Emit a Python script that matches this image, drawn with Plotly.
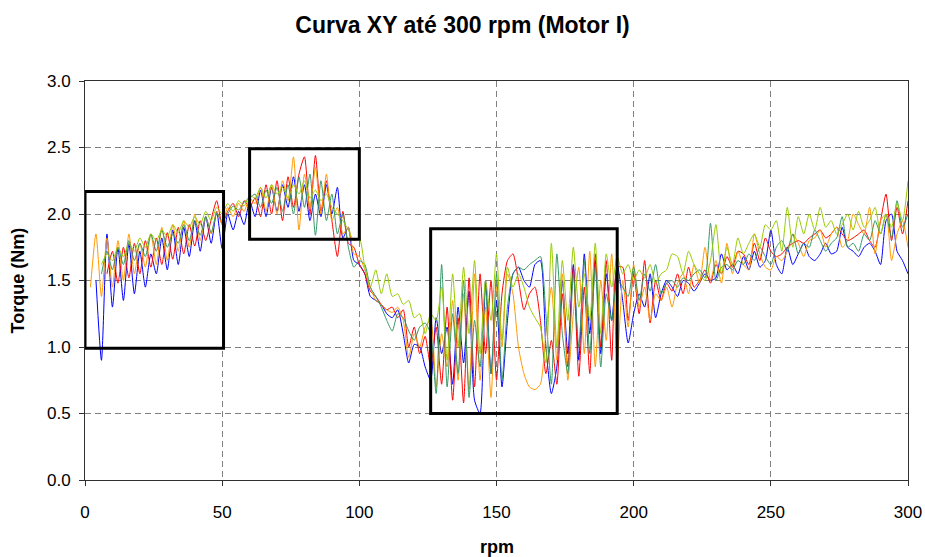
import plotly.graph_objects as go

# rpm sampling grid (2 rpm step)
rpm = list(range(2, 301, 2))

N = None
# Torque series (Nm), region by region
blue = ([N, 1.50, 0.90, 1.85, 1.30, 1.75, 1.35, 1.78, 1.40, 1.72, 1.45, 1.70, 1.55, 1.82, 1.58, 1.88, 1.62, 1.90, 1.68, 1.95, 1.72, 1.98, 1.78, 2.02, 1.74]
        + [2.00, 1.88, 2.02, 1.92, 2.10]
        + [1.98, 2.18, 1.98, 2.20, 2.02, 2.22, 2.05, 2.28, 2.02, 2.22, 1.95, 2.15, 1.98, 2.22, 2.00, 2.20, 1.82, 1.90, 1.65, 1.62]
        + [1.55, 1.38, 1.35, 1.32, 1.25, 1.22, 1.28, 1.10, 0.88, 1.02, 1.00, 0.85]
        + [0.75, 1.22, 0.95, 1.15, 0.72, 1.30, 0.88, 1.42, 0.60, 0.50, 1.50, 0.80, 1.35, 0.70, 1.20, 1.55, 1.60, 1.50, 1.45, 1.62,
           1.65, 1.00, 0.65, 0.85, 1.50, 0.95, 1.62, 0.90, 1.70, 1.10, 1.65, 0.95, 1.55, 1.20, 1.62]
        + [1.35, 1.03, 1.25, 1.40, 1.30, 1.55, 1.22, 1.40, 1.50, 1.45, 1.38, 1.50, 1.48, 1.42, 1.48, 1.55, 1.50, 1.52, 1.70, 1.58,
           1.62, 1.55, 1.68, 1.58, 1.72, 1.60, 1.65, 1.88, 1.62, 1.55, 1.75, 1.62, 1.70, 1.78, 1.68, 1.65, 1.70, 1.78, 1.70, 1.72,
           1.90, 1.75, 1.72, 1.68, 1.75, 1.78, 1.72, 1.62, 1.95, 2.00, 1.72, 1.65, 1.55])

red = ([N, N, N, 1.55, 1.72, 1.48, 1.75, 1.52, 1.78, 1.55, 1.80, 1.60, 1.82, 1.62, 1.86, 1.66, 1.90, 1.70, 1.92, 1.76, 1.95, 1.80, 1.96, 2.10, 1.92]
       + [2.02, 2.08, 1.98, 2.10, 2.05]
       + [2.12, 1.98, 2.22, 2.00, 2.25, 1.95, 2.28, 2.05, 2.30, 2.43, 2.00, 2.44, 2.02, 2.25, 1.95, 1.68, 2.02, 1.78, 1.75, 1.62]
       + [1.55, 1.42, 1.38, 1.32, 1.28, 1.30, 1.22, 1.28, 1.00, 1.15, 0.95, 1.08]
       + [0.85, 1.15, 0.72, 1.30, 0.60, 1.22, 0.58, 1.52, 0.70, 1.55, 0.95, 1.50, 0.75, 1.40, 1.65, 1.70, 1.50, 1.28, 1.40, 1.45,
          1.20, 0.80, 1.05, 0.72, 1.40, 0.85, 1.60, 0.78, 1.45, 0.80, 1.70, 1.00, 1.65, 0.90, 1.60]
       + [1.60, 1.20, 1.55, 1.25, 1.65, 1.18, 1.50, 1.35, 1.48, 1.42, 1.55, 1.40, 1.60, 1.45, 1.50, 1.58, 1.48, 1.62, 1.55, 1.68,
          1.60, 1.72, 1.70, 1.62, 1.78, 1.65, 1.82, 1.72, 1.68, 1.70, 1.75, 1.78, 1.80, 1.78, 1.82, 1.85, 1.88, 1.82, 1.85, 1.90,
          1.85, 1.80, 1.82, 1.85, 1.88, 1.80, 1.75, 1.95, 2.15, 1.80, 2.05, 1.85, 2.10])

orange = ([1.45, 1.85, 1.38, 1.82, 1.45, 1.80, 1.50, 1.85, 1.55, 1.78, 1.60, 1.85, 1.62, 1.90, 1.65, 1.92, 1.72, 1.95, 1.75, 2.00, 1.80, 1.98, 1.85, 2.02, 1.92]
          + [2.05, 1.98, 2.08, 2.02, 2.12]
          + [2.08, 2.20, 2.02, 2.22, 2.00, 2.25, 2.10, 2.43, 1.88, 2.30, 2.05, 2.35, 2.00, 2.30, 1.95, 2.05, 1.85, 1.90, 1.70, 1.68]
          + [1.58, 1.45, 1.35, 1.32, 1.28, 1.26, 1.30, 1.20, 0.92, 1.10, 1.00, 1.15]
          + [1.20, 0.70, 1.10, 0.85, 1.35, 0.75, 1.40, 0.68, 1.55, 0.75, 1.30, 0.62, 1.45, 1.00, 1.55, 1.40, 1.00, 0.80, 0.70, 0.68,
             0.72, 1.10, 1.45, 0.90, 1.55, 0.75, 1.25, 1.60, 0.95, 1.72, 0.85, 1.50, 1.05, 1.70, 0.90]
          + [1.50, 1.15, 1.62, 1.30, 1.45, 1.20, 1.40, 1.35, 1.45, 1.30, 1.48, 1.55, 1.40, 1.62, 1.48, 1.75, 1.50, 1.65, 1.48, 1.78,
             1.55, 1.72, 1.62, 1.58, 1.85, 1.70, 1.60, 1.58, 1.68, 1.65, 1.72, 1.85, 1.78, 1.68, 1.80, 1.82, 1.88, 1.75, 1.85, 1.90,
             1.75, 1.80, 2.00, 1.92, 1.85, 2.05, 1.70, 1.95, 2.00, 1.65, 1.85, 1.95, 1.75])

teal = ([N, N, 1.55, 1.72, 1.58, 1.75, 1.62, 1.80, 1.65, 1.78, 1.68, 1.85, 1.72, 1.88, 1.75, 1.85, 1.78, 1.92, 1.80, 1.95, 1.84, 1.98, 1.86, 2.00, 1.95]
        + [2.00, 2.06, 2.03, 2.09, 2.12]
        + [2.15, 2.05, 2.18, 2.08, 2.20, 2.02, 2.22, 2.00, 2.28, 2.05, 2.30, 1.84, 2.25, 1.95, 2.15, 1.85, 2.00, 1.75, 1.60, 1.65]
        + [1.62, 1.45, 1.38, 1.30, 1.20, 1.12, 1.25, 1.22, 1.12, 1.05, 1.15, 1.18]
        + [1.10, 0.65, 1.62, 0.70, 1.25, 0.80, 1.50, 0.62, 1.20, 0.85, 1.45, 0.80, 1.55, 0.75, 1.30, 1.55, 1.60, 1.58, 1.62, 1.65,
           1.68, 1.25, 0.72, 1.70, 1.10, 0.80, 1.55, 1.00, 1.65, 0.95, 1.60, 0.85, 1.40, 1.20, 1.50]
        + [1.45, 1.38, 1.60, 1.35, 1.55, 1.42, 1.62, 1.40, 1.48, 1.50, 1.45, 1.52, 1.50, 1.55, 1.58, 1.52, 1.93, 1.50, 1.60, 1.62,
           1.58, 1.65, 1.62, 1.70, 1.65, 1.75, 1.68, 1.62, 1.75, 1.80, 1.72, 1.85, 1.70, 1.78, 1.75, 1.88, 1.80, 1.72, 1.78, 1.82,
           1.98, 1.75, 1.78, 1.72, 1.85, 1.80, 1.95, 1.85, 2.00, 1.82, 2.10, 1.90, 2.00])

yellowgreen = ([N, N, 1.62, 1.70, 1.65, 1.75, 1.68, 1.78, 1.72, 1.82, 1.75, 1.85, 1.80, 1.88, 1.83, 1.92, 1.86, 1.95, 1.90, 1.98, 1.92, 2.02, 1.95, 2.05, 2.00]
               + [2.08, 2.02, 2.10, 2.06, 2.14]
               + [2.12, 2.20, 2.12, 2.22, 2.15, 2.20, 2.12, 2.22, 2.15, 2.25, 2.12, 2.18, 2.10, 2.15, 2.05, 2.00, 1.95, 1.88, 1.80, 1.82]
               + [1.60, 1.45, 1.58, 1.40, 1.55, 1.38, 1.40, 1.32, 1.35, 1.22, 1.25, 1.10]
               + [1.25, 1.20, 1.45, 0.90, 1.55, 1.00, 1.60, 1.10, 1.65, 0.95, 1.50, 1.20, 1.70, 1.05, 1.60, 1.45, 1.55, 1.45, 1.30, 1.22,
                  1.15, 0.88, 1.78, 1.00, 1.65, 1.20, 1.75, 1.30, 1.55, 1.20, 1.78, 1.10, 1.70, 1.45, 1.68]
               + [1.55, 1.62, 1.50, 1.58, 1.52, 1.62, 1.48, 1.55, 1.58, 1.70, 1.68, 1.55, 1.72, 1.62, 1.55, 1.50, 1.65, 1.92, 1.55, 1.75,
                  1.62, 1.82, 1.70, 1.78, 1.85, 1.75, 1.92, 1.88, 1.95, 1.72, 2.05, 1.75, 1.98, 1.85, 2.00, 1.88, 2.05, 1.90, 1.95, 1.85,
                  1.92, 2.00, 1.88, 2.02, 1.90, 1.95, 2.05, 1.85, 2.00, 1.90, 2.08, 1.95, 2.25])

series = [("blue", blue, "#0000FF"), ("red", red, "#FF0000"), ("orange", orange, "#FF9900"),
          ("teal", teal, "#339966"), ("yellowgreen", yellowgreen, "#99CC00")]

# highlighted regions (rpm range, torque range)
boxes = [((0, 50.5), (0.99, 2.17)), ((60, 100), (1.81, 2.49)), ((126, 194), (0.50, 1.89))]

FONT = "Liberation Sans, Arial, sans-serif"
W, H = 925, 557
ML, MR, MT, MB = 85, 17, 81, 77
PW, PH = W - ML - MR, H - MT - MB

fig = go.Figure()
for name, vals, col in series:
    fig.add_trace(go.Scatter(x=rpm[:len(vals)], y=vals, mode="lines", name=name,
                             line=dict(color=col, width=1, shape="spline", smoothing=0.6),
                             connectgaps=False))

for (x0, x1), (y0, y1) in boxes:
    fig.add_shape(type="rect", xref="x", yref="y", x0=x0, x1=x1, y0=y0, y1=y1,
                  line=dict(color="black", width=3), fillcolor="rgba(0,0,0,0)")

fig.update_layout(
    width=W, height=H,
    margin=dict(l=ML, r=MR, t=MT, b=MB, autoexpand=False),
    paper_bgcolor="white", plot_bgcolor="white",
    showlegend=False,
    font=dict(family=FONT, color="black", size=17),
    title=dict(text="<b>Curva XY até 300 rpm (Motor I)</b>", x=0.5, xanchor="center",
               y=1 - 25 / H, yanchor="middle", font=dict(family=FONT, size=23, color="black")),
    annotations=[
        dict(text="<b>Torque (Nm)</b>", xref="paper", yref="paper",
             x=(17 - ML) / PW, y=0.5, xanchor="center", yanchor="middle",
             textangle=-90, showarrow=False, font=dict(family=FONT, size=18, color="black")),
        dict(text="<b>rpm</b>", xref="paper", yref="paper",
             x=0.5, y=-(547 - (H - MB)) / PH, xanchor="center", yanchor="middle",
             showarrow=False, font=dict(family=FONT, size=18, color="black")),
    ],
)
fig.update_xaxes(range=[0, 300], tickvals=[0, 50, 100, 150, 200, 250, 300],
                 ticktext=["0", "50", "100", "150", "200", "250", "300"],
                 showgrid=True, gridcolor="#808080", griddash="6px,4px", gridwidth=1,
                 showline=True, linecolor="#303030", linewidth=1, mirror=True,
                 ticks="outside", ticklen=5, tickcolor="#303030", zeroline=False,
                 automargin=False, ticklabeloverflow="allow",
                 ticklabelstandoff=12, tickfont=dict(family=FONT, size=17))
fig.update_yaxes(range=[0, 3], tickvals=[0, 0.5, 1, 1.5, 2, 2.5, 3],
                 ticktext=["0.0", "0.5", "1.0", "1.5", "2.0", "2.5", "3.0"],
                 showgrid=True, gridcolor="#808080", griddash="6px,4px", gridwidth=1,
                 showline=True, linecolor="#303030", linewidth=1, mirror=True,
                 ticks="outside", ticklen=5, tickcolor="#303030", zeroline=False,
                 automargin=False,
                 ticklabelstandoff=5, tickfont=dict(family=FONT, size=17))

fig.write_html("out.html")
